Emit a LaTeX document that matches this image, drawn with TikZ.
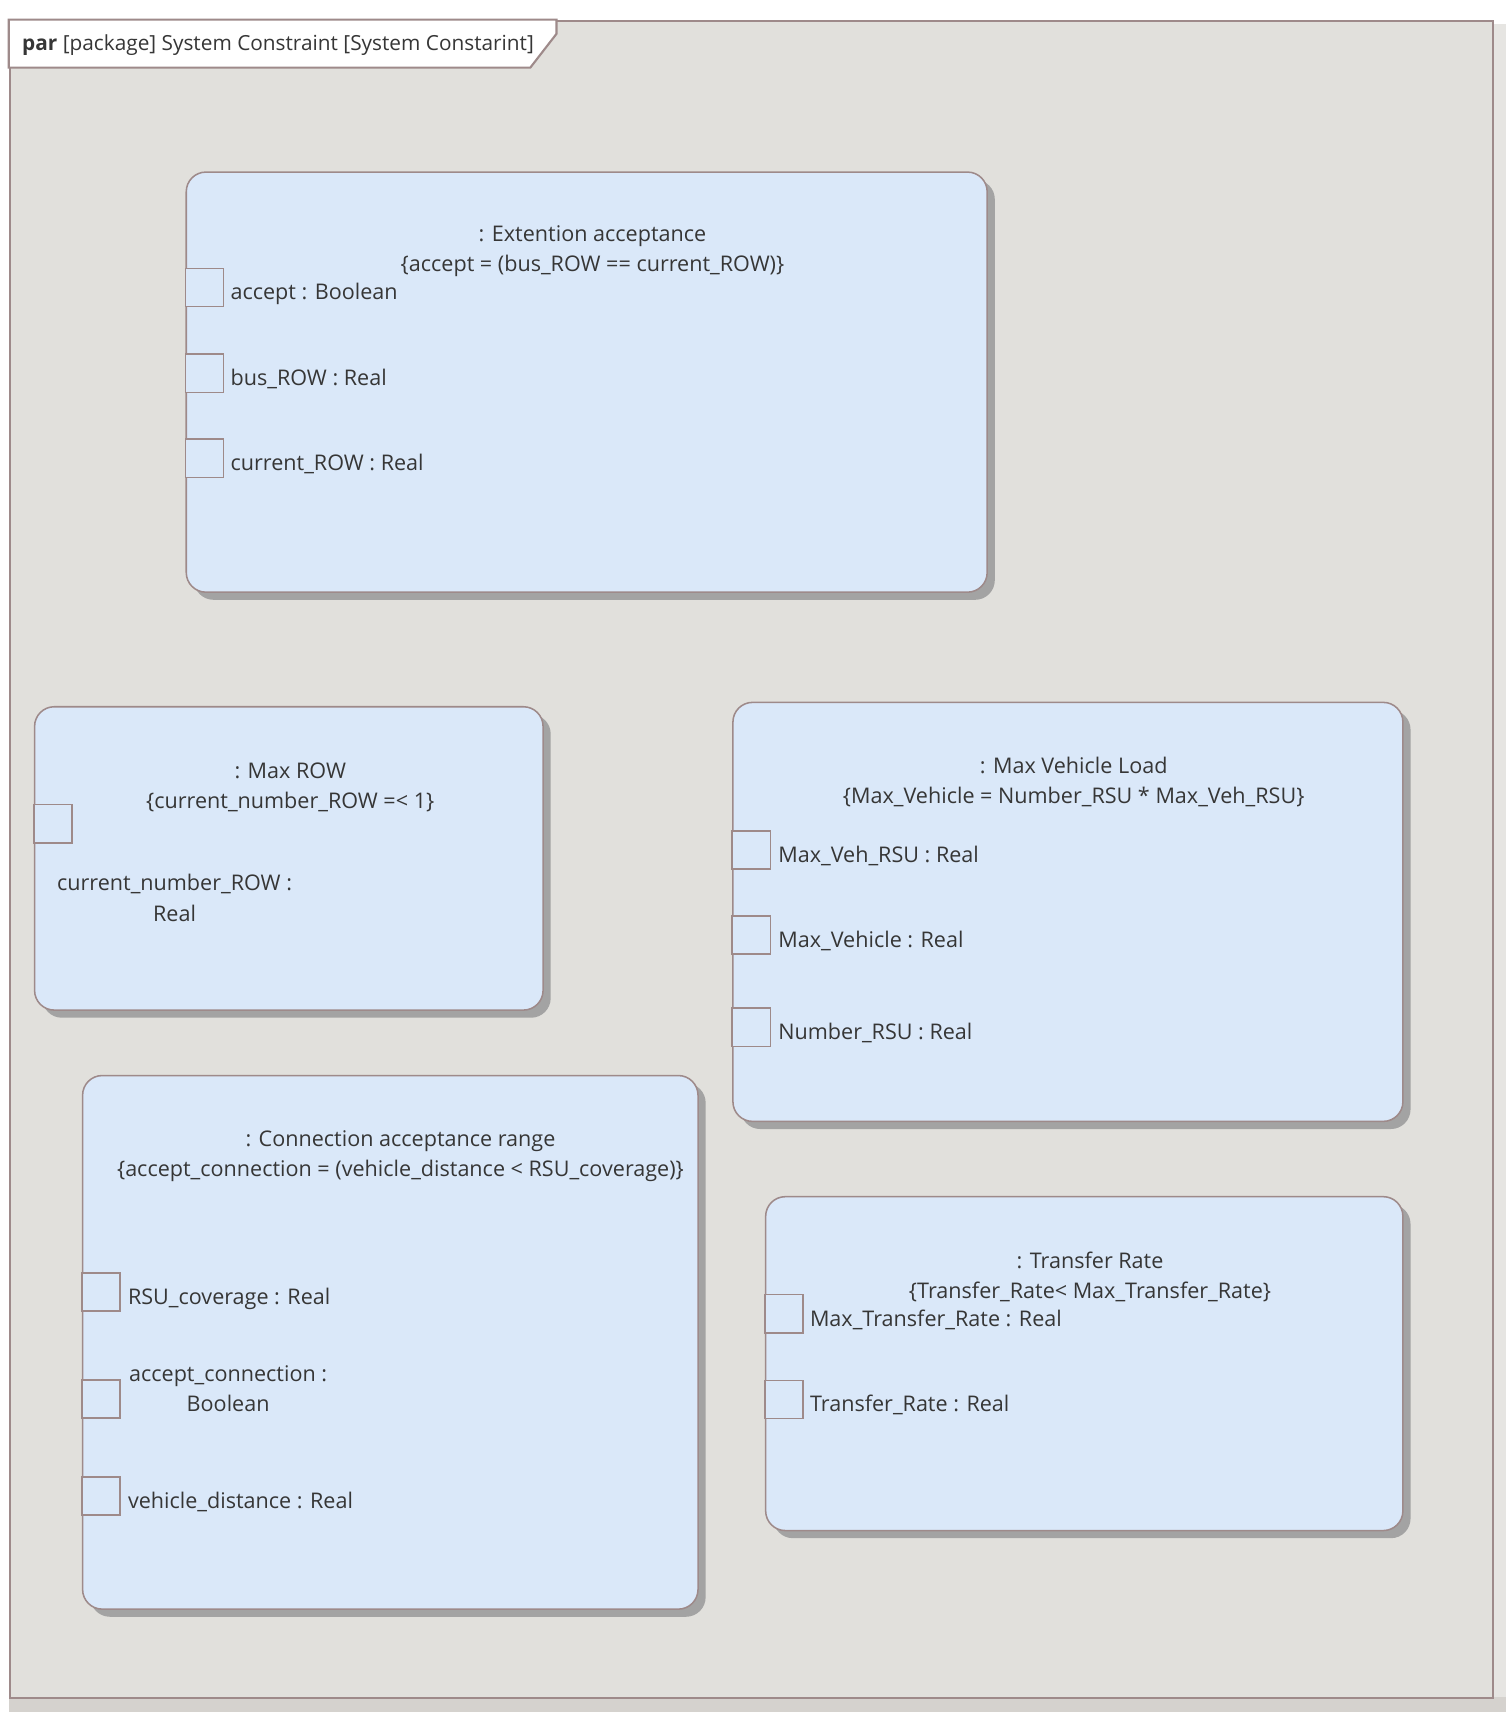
\documentclass[tikz,border=0pt]{standalone}
\usepackage{fontspec}
\setmainfont{Open Sans}
\usetikzlibrary{positioning,calc,shadows}
\definecolor{colorBG}{HTML}{E1E0DC}
\definecolor{colorBK}{HTML}{DAE8F9}
\definecolor{colorLN}{HTML}{9E8A8A}
\definecolor{colorSH}{HTML}{A3A3A3}
\definecolor{colorTX}{HTML}{363636}
\definecolor{colorOS}{HTML}{E6E5E2}
\definecolor{colorOB}{HTML}{D5D2CE}
\tikzset{
   frm/.style={rectangle,draw=colorLN,line width=1.1pt,fill=colorBG,inner sep=0pt,anchor=north west},
   tab/.style={draw=colorLN,line width=1.1pt,fill=white},
   blk/.style={rectangle,rounded corners=3.6mm,draw=colorLN,line width=0.8pt,fill=colorBK,inner sep=0pt,anchor=north west,
      drop shadow={shadow xshift=1.4mm,shadow yshift=-1.4mm,fill=colorSH,opacity=1}},
   prt/.style={rectangle,draw=colorLN,line width=0.8pt,fill=colorBK,minimum size=7mm,inner sep=0pt,outer sep=0pt,anchor=west},
   ttl/.style={align=center,inner sep=0pt},
   lbl/.style={anchor=west,inner sep=0pt,text height=1.33ex,text depth=0pt,yshift=-1mm},
   lbll/.style={anchor=west,inner sep=0pt,align=center},
}

\begin{document}
\begin{tikzpicture}[x=0.2mm,y=-0.2mm,text=colorTX,font=\fontsize{11.25}{15.9}\selectfont]
      \useasboundingbox (0,0) rectangle (1380,1569);
      \fill[white] (0,0) rectangle (1380,1569);
      \fill[colorOS] (1367,22) rectangle (1380,1569);
      \fill[colorOB] (8,1555) rectangle (1380,1569);

      % frame and its tab
      \node (pkg) [frm, minimum width=271.8mm, minimum height=307.4mm] at (8,18) {};
      \draw[tab] (pkg.north west) -- (510,18) -- (510,31) -- (486,62) -- (8,62) -- cycle;
      \node (pkgt) [anchor=west, inner sep=0pt, font=\fontsize{10.85}{14}\selectfont] at (20,41)
        {\textbf{par} [package] System Constraint [System Constarint]};

      % Extention acceptance
      \node (ext) [blk, minimum width=146.8mm, minimum height=77mm] at (170,157) {};
      \node (extt) [ttl] at (543,230)
        {: Extention acceptance\\\{accept = (bus\_ROW == current\_ROW)\}};
      \node (exta) [prt] at (170,263.5) {};
      \node (extb) [prt, below=8.7mm of exta] {};
      \node (extc) [prt, below=8.6mm of extb] {};
      \node (extal) [lbl, right=1.2mm of exta] {accept : Boolean};
      \node (extbl) [lbl, right=1.2mm of extb] {bus\_ROW : Real};
      \node (extcl) [lbl, right=1.2mm of extc] {current\_ROW : Real};

      % Max ROW
      \node (row) [blk, minimum width=93.2mm, minimum height=55.6mm] at (31,647) {};
      \node (rowt) [ttl] at (266,721.5)
        {: Max ROW\\\{current\_number\_ROW =< 1\}};
      \node (rowa) [prt] at (31,755) {};
      \node (rowal) [lbll] at (52,823) {current\_number\_ROW :\\Real};

      % Max Vehicle Load
      \node (veh) [blk, minimum width=122.8mm, minimum height=76.8mm] at (671,643) {};
      \node (veht) [ttl] at (984,716.5)
        {: Max Vehicle Load\\\{Max\_Vehicle = Number\_RSU * Max\_Veh\_RSU\}};
      \node (veha) [prt] at (671,779) {};
      \node (vehb) [prt, below=8.6mm of veha] {};
      \node (vehc) [prt, below=9.9mm of vehb] {};
      \node (vehal) [lbl, right=1.4mm of veha] {Max\_Veh\_RSU : Real};
      \node (vehbl) [lbl, right=1.4mm of vehb] {Max\_Vehicle : Real};
      \node (vehcl) [lbl, right=1.4mm of vehc] {Number\_RSU : Real};

      % Connection acceptance range
      \node (con) [blk, minimum width=112.8mm, minimum height=97.8mm] at (75,985) {};
      \node (cont) [ttl] at (367,1059.5)
        {: Connection acceptance range\\\{accept\_connection = (vehicle\_distance < RSU\_coverage)\}};
      \node (cona) [prt] at (75,1184) {};
      \node (conb) [prt, below=12.6mm of cona] {};
      \node (conc) [prt, below=10.8mm of conb] {};
      \node (conal) [lbl, right=1.4mm of cona] {RSU\_coverage : Real};
      \node (conbl) [lbll, right=1.6mm of conb, yshift=1.9mm] {accept\_connection :\\Boolean};
      \node (concl) [lbl, right=1.4mm of conc] {vehicle\_distance : Real};

      % Transfer Rate
      \node (trf) [blk, minimum width=116.8mm, minimum height=61.2mm] at (701,1096) {};
      \node (trft) [ttl] at (999,1170.5)
        {: Transfer Rate\\\{Transfer\_Rate< Max\_Transfer\_Rate\}};
      \node (trfa) [prt] at (701,1204) {};
      \node (trfb) [prt, below=8.7mm of trfa] {};
      \node (trfal) [lbl, right=1.2mm of trfa] {Max\_Transfer\_Rate : Real};
      \node (trfbl) [lbl, right=1.2mm of trfb] {Transfer\_Rate : Real};
\end{tikzpicture}
\end{document}
